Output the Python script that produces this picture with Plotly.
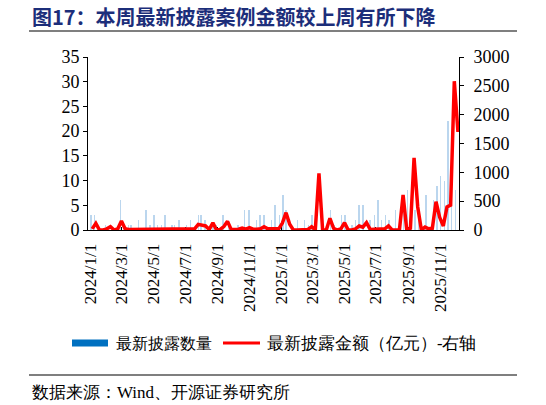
import pandas as pd
import plotly.graph_objects as go

# ---------------- data ----------------
bar_dates = ["2024-01-03","2024-01-10","2024-01-31","2024-02-28","2024-03-15","2024-03-19","2024-04-03","2024-04-17",
             "2024-04-25","2024-05-02","2024-05-09","2024-05-17","2024-05-23","2024-06-06","2024-06-11","2024-06-19",
             "2024-07-04","2024-07-11","2024-07-26","2024-07-31","2024-08-08","2024-08-23","2024-08-30","2024-09-11",
             "2024-09-23","2024-10-10","2024-10-23","2024-10-31","2024-11-15","2024-11-21","2024-11-29","2024-12-13",
             "2024-12-20","2024-12-28","2025-01-04","2025-01-10","2025-02-01","2025-02-14","2025-02-22","2025-03-01",
             "2025-03-19","2025-04-05","2025-04-12","2025-04-26","2025-05-03","2025-05-16","2025-05-23","2025-05-30",
             "2025-06-06","2025-06-20","2025-06-28","2025-07-05","2025-07-12","2025-07-19","2025-07-26","2025-08-08",
             "2025-08-23","2025-08-30","2025-09-14","2025-09-21","2025-10-05","2025-10-19","2025-10-26","2025-11-02",
             "2025-11-09","2025-11-16","2025-11-23","2025-11-30"]
bar_counts = [3,3,1,6,1,1,2,4,1,3, 1,1,3,1,1,2,1,2,3,3, 2,1,1,3,1,1,4,4,2,3,
              3,2,5,3,7,4,2,2,1,3, 1,4,1,3,3,1,2,5,5,2, 3,6,2,3,2,4,6,8,4,5,
              7,6,9,11,10,22,20,8]

week_start = "2024-01-05"
amounts = [20,116,0,0,20,57,0,20,156,20,
           10,10,10,10,10,10,10,10,10,10,
           10,10,10,10,10,10,10,10,20,98,
           90,70,10,125,0,10,60,150,10,15,
           15,35,15,40,15,15,20,55,20,20,
           20,20,120,300,100,0,0,0,0,10,
           57,0,983,0,0,202,30,0,20,127,
           0,0,20,70,50,127,10,10,20,20,
           20,70,0,0,0,610,0,30,1250,400,
           0,50,20,30,490,220,70,400,430,2580,
           1700]
week_dates = pd.date_range(week_start, periods=len(amounts), freq="7D")

tick_vals = ["2024-01-01","2024-03-01","2024-05-01","2024-07-01","2024-09-01","2024-11-01",
             "2025-01-01","2025-03-01","2025-05-01","2025-07-01","2025-09-01","2025-11-01"]
tick_text = ["2024/1/1","2024/3/1","2024/5/1","2024/7/1","2024/9/1","2024/11/1",
             "2025/1/1","2025/3/1","2025/5/1","2025/7/1","2025/9/1","2025/11/1"]

title_text = "图17：本周最新披露案例金额较上周有所下降"
legend1 = "最新披露数量"
legend2 = "最新披露金额（亿元）-右轴"
source_text = "数据来源：Wind、开源证券研究所"

# ---------------- layout helpers ----------------
W, H = 546, 405
L, R, T, B = 88, 459, 57, 230
def px(x):
    return (x - L) / (R - L)
def py(y):
    return (B - y) / (B - T)

serif = "Liberation Serif"
cjk = "Noto Sans CJK SC"

fig = go.Figure()
fig.add_trace(go.Bar(x=bar_dates, y=bar_counts, marker=dict(color="#BBD6EE", line=dict(width=0)),
                     width=86400000 * 0.8, name=legend1))
fig.add_trace(go.Scatter(x=week_dates, y=amounts, yaxis="y2", mode="lines",
                         line=dict(color="#FF0000", width=3.5), name=legend2))

axis_common = dict(showgrid=False, zeroline=False, showline=True, linecolor="black", linewidth=1,
                   tickcolor="black")
fig.update_layout(
    width=W, height=H,
    margin=dict(l=L, r=W - R, t=T, b=H - B),
    plot_bgcolor="white", paper_bgcolor="white",
    showlegend=False, bargap=0,
    font=dict(family=serif),
    xaxis=dict(type="date", range=["2023-12-28", "2025-12-07"], tickmode="array",
               tickvals=tick_vals, ticktext=tick_text, tickangle=-90,
               ticks="inside", ticklen=3, layer="below traces", ticklabelstandoff=6,
               tickfont=dict(family=serif, size=17, color="black"), **axis_common),
    yaxis=dict(range=[0, 35], dtick=5, ticks="outside", ticklen=4,
               tickfont=dict(family=serif, size=18, color="black"), **axis_common),
    yaxis2=dict(range=[0, 3000], dtick=500, overlaying="y", side="right", ticks="outside", ticklen=4,
                ticklabelstandoff=6,
                tickfont=dict(family=serif, size=18, color="black"), **axis_common),
)

shapes = [
    dict(type="line", xref="paper", yref="paper", x0=px(29), x1=px(517), y0=py(31), y1=py(31),
         line=dict(color="black", width=1.2)),
    dict(type="line", xref="paper", yref="paper", x0=px(29), x1=px(517), y0=py(375), y1=py(375),
         line=dict(color="black", width=1.2)),
    dict(type="rect", xref="paper", yref="paper", x0=px(72), x1=px(108), y0=py(346.5), y1=py(339.5),
         fillcolor="#0070C0", line=dict(width=0)),
    dict(type="line", xref="paper", yref="paper", x0=px(223), x1=px(260), y0=py(343), y1=py(343),
         line=dict(color="#FF0000", width=3)),
]
fig.update_layout(shapes=shapes)

annotations = [
    dict(text="<b>" + title_text + "</b>", x=px(30), y=py(16), xanchor="left", yanchor="middle",
         font=dict(family=cjk, size=20, color="#1C2E7A")),
    dict(text=legend1, x=px(114), y=py(343), xanchor="left", yanchor="middle",
         font=dict(family=serif, size=16, color="black")),
    dict(text=legend2, x=px(265), y=py(343), xanchor="left", yanchor="middle",
         font=dict(family=serif, size=16.5, color="black")),
    dict(text=source_text, x=px(30), y=py(392), xanchor="left", yanchor="middle",
         font=dict(family=serif, size=17, color="black")),
]
for a in annotations:
    a.update(xref="paper", yref="paper", showarrow=False)
fig.update_layout(annotations=annotations)

fig.write_html("out.html")
